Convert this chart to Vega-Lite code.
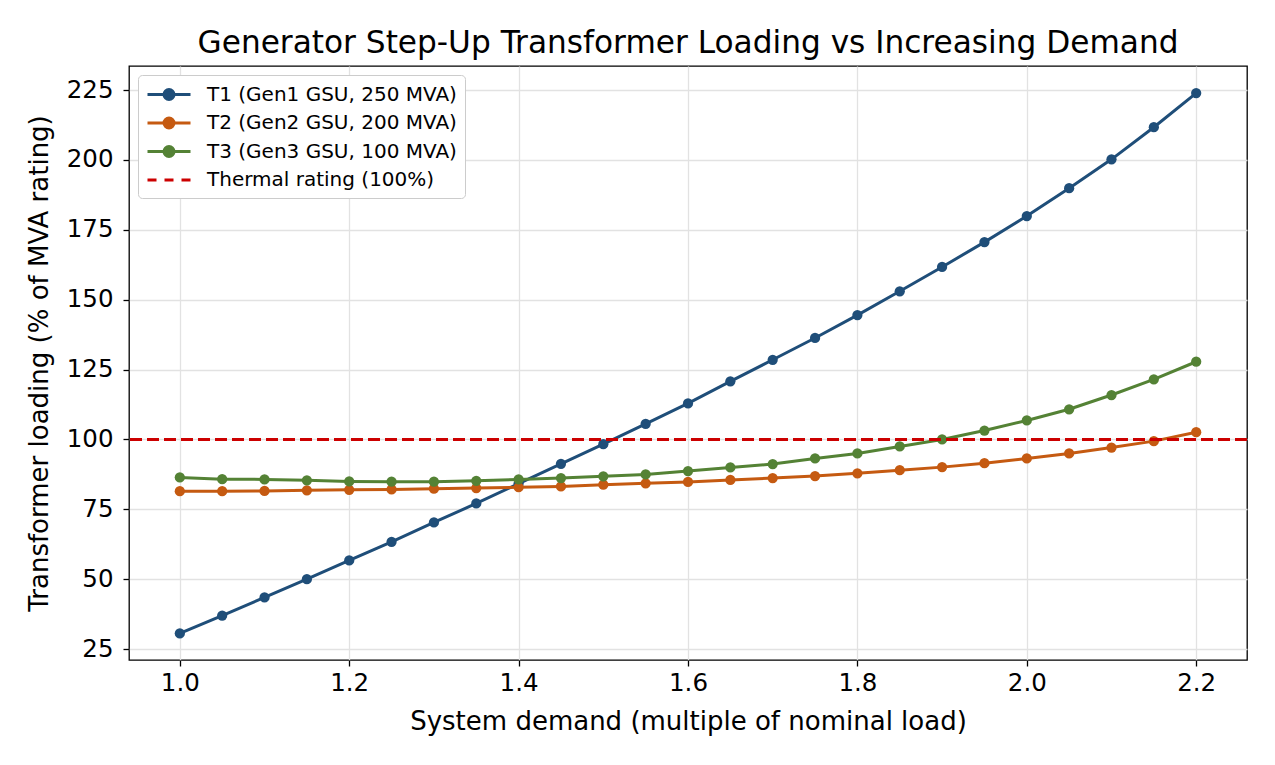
{
  "$schema": "https://vega.github.io/schema/vega-lite/v6.json",
  "width": 1118,
  "height": 594,
  "autosize": {"type": "none"},
  "padding": {"left": 129, "top": 66, "right": 28, "bottom": 105},
  "background": "white",
  "title": {
    "text": "Generator Step-Up Transformer Loading vs Increasing Demand",
    "fontSize": 31.2,
    "font": "DejaVu Sans",
    "fontWeight": "normal",
    "color": "black",
    "anchor": "middle",
    "offset": 7
  },
  "config": {
    "font": "DejaVu Sans",
    "view": {"stroke": "black", "strokeWidth": 1.3},
    "axis": {
      "domain": false,
      "grid": true,
      "gridColor": "#e2e2e2",
      "gridWidth": 1.3,
      "tickColor": "black",
      "tickSize": 6,
      "tickWidth": 1.3,
      "labelFont": "DejaVu Sans",
      "labelFontSize": 24.5,
      "labelColor": "black",
      "titleFont": "DejaVu Sans",
      "titleFontSize": 26,
      "titleFontWeight": "normal",
      "titleColor": "black"
    }
  },
  "datasets": {
    "loading": [
      {"x": 1.0, "y": 30.6, "series": "T1 (Gen1 GSU, 250 MVA)"},
      {"x": 1.05, "y": 37.0, "series": "T1 (Gen1 GSU, 250 MVA)"},
      {"x": 1.1, "y": 43.5, "series": "T1 (Gen1 GSU, 250 MVA)"},
      {"x": 1.15, "y": 50.0, "series": "T1 (Gen1 GSU, 250 MVA)"},
      {"x": 1.2, "y": 56.7, "series": "T1 (Gen1 GSU, 250 MVA)"},
      {"x": 1.25, "y": 63.4, "series": "T1 (Gen1 GSU, 250 MVA)"},
      {"x": 1.3, "y": 70.3, "series": "T1 (Gen1 GSU, 250 MVA)"},
      {"x": 1.35, "y": 77.1, "series": "T1 (Gen1 GSU, 250 MVA)"},
      {"x": 1.4, "y": 84.2, "series": "T1 (Gen1 GSU, 250 MVA)"},
      {"x": 1.45, "y": 91.3, "series": "T1 (Gen1 GSU, 250 MVA)"},
      {"x": 1.5, "y": 98.3, "series": "T1 (Gen1 GSU, 250 MVA)"},
      {"x": 1.55, "y": 105.6, "series": "T1 (Gen1 GSU, 250 MVA)"},
      {"x": 1.6, "y": 112.9, "series": "T1 (Gen1 GSU, 250 MVA)"},
      {"x": 1.65, "y": 120.8, "series": "T1 (Gen1 GSU, 250 MVA)"},
      {"x": 1.7, "y": 128.5, "series": "T1 (Gen1 GSU, 250 MVA)"},
      {"x": 1.75, "y": 136.3, "series": "T1 (Gen1 GSU, 250 MVA)"},
      {"x": 1.8, "y": 144.5, "series": "T1 (Gen1 GSU, 250 MVA)"},
      {"x": 1.85, "y": 153.0, "series": "T1 (Gen1 GSU, 250 MVA)"},
      {"x": 1.9, "y": 161.7, "series": "T1 (Gen1 GSU, 250 MVA)"},
      {"x": 1.95, "y": 170.6, "series": "T1 (Gen1 GSU, 250 MVA)"},
      {"x": 2.0, "y": 179.9, "series": "T1 (Gen1 GSU, 250 MVA)"},
      {"x": 2.05, "y": 189.9, "series": "T1 (Gen1 GSU, 250 MVA)"},
      {"x": 2.1, "y": 200.2, "series": "T1 (Gen1 GSU, 250 MVA)"},
      {"x": 2.15, "y": 211.7, "series": "T1 (Gen1 GSU, 250 MVA)"},
      {"x": 2.2, "y": 223.9, "series": "T1 (Gen1 GSU, 250 MVA)"},
      {"x": 1.0, "y": 81.5, "series": "T2 (Gen2 GSU, 200 MVA)"},
      {"x": 1.05, "y": 81.5, "series": "T2 (Gen2 GSU, 200 MVA)"},
      {"x": 1.1, "y": 81.6, "series": "T2 (Gen2 GSU, 200 MVA)"},
      {"x": 1.15, "y": 81.8, "series": "T2 (Gen2 GSU, 200 MVA)"},
      {"x": 1.2, "y": 82.0, "series": "T2 (Gen2 GSU, 200 MVA)"},
      {"x": 1.25, "y": 82.1, "series": "T2 (Gen2 GSU, 200 MVA)"},
      {"x": 1.3, "y": 82.4, "series": "T2 (Gen2 GSU, 200 MVA)"},
      {"x": 1.35, "y": 82.6, "series": "T2 (Gen2 GSU, 200 MVA)"},
      {"x": 1.4, "y": 82.9, "series": "T2 (Gen2 GSU, 200 MVA)"},
      {"x": 1.45, "y": 83.2, "series": "T2 (Gen2 GSU, 200 MVA)"},
      {"x": 1.5, "y": 83.8, "series": "T2 (Gen2 GSU, 200 MVA)"},
      {"x": 1.55, "y": 84.3, "series": "T2 (Gen2 GSU, 200 MVA)"},
      {"x": 1.6, "y": 84.8, "series": "T2 (Gen2 GSU, 200 MVA)"},
      {"x": 1.65, "y": 85.5, "series": "T2 (Gen2 GSU, 200 MVA)"},
      {"x": 1.7, "y": 86.2, "series": "T2 (Gen2 GSU, 200 MVA)"},
      {"x": 1.75, "y": 86.9, "series": "T2 (Gen2 GSU, 200 MVA)"},
      {"x": 1.8, "y": 87.9, "series": "T2 (Gen2 GSU, 200 MVA)"},
      {"x": 1.85, "y": 89.0, "series": "T2 (Gen2 GSU, 200 MVA)"},
      {"x": 1.9, "y": 90.1, "series": "T2 (Gen2 GSU, 200 MVA)"},
      {"x": 1.95, "y": 91.5, "series": "T2 (Gen2 GSU, 200 MVA)"},
      {"x": 2.0, "y": 93.2, "series": "T2 (Gen2 GSU, 200 MVA)"},
      {"x": 2.05, "y": 95.0, "series": "T2 (Gen2 GSU, 200 MVA)"},
      {"x": 2.1, "y": 97.1, "series": "T2 (Gen2 GSU, 200 MVA)"},
      {"x": 2.15, "y": 99.4, "series": "T2 (Gen2 GSU, 200 MVA)"},
      {"x": 2.2, "y": 102.6, "series": "T2 (Gen2 GSU, 200 MVA)"},
      {"x": 1.0, "y": 86.4, "series": "T3 (Gen3 GSU, 100 MVA)"},
      {"x": 1.05, "y": 85.8, "series": "T3 (Gen3 GSU, 100 MVA)"},
      {"x": 1.1, "y": 85.7, "series": "T3 (Gen3 GSU, 100 MVA)"},
      {"x": 1.15, "y": 85.4, "series": "T3 (Gen3 GSU, 100 MVA)"},
      {"x": 1.2, "y": 85.0, "series": "T3 (Gen3 GSU, 100 MVA)"},
      {"x": 1.25, "y": 84.9, "series": "T3 (Gen3 GSU, 100 MVA)"},
      {"x": 1.3, "y": 84.9, "series": "T3 (Gen3 GSU, 100 MVA)"},
      {"x": 1.35, "y": 85.2, "series": "T3 (Gen3 GSU, 100 MVA)"},
      {"x": 1.4, "y": 85.7, "series": "T3 (Gen3 GSU, 100 MVA)"},
      {"x": 1.45, "y": 86.2, "series": "T3 (Gen3 GSU, 100 MVA)"},
      {"x": 1.5, "y": 86.8, "series": "T3 (Gen3 GSU, 100 MVA)"},
      {"x": 1.55, "y": 87.5, "series": "T3 (Gen3 GSU, 100 MVA)"},
      {"x": 1.6, "y": 88.7, "series": "T3 (Gen3 GSU, 100 MVA)"},
      {"x": 1.65, "y": 90.0, "series": "T3 (Gen3 GSU, 100 MVA)"},
      {"x": 1.7, "y": 91.2, "series": "T3 (Gen3 GSU, 100 MVA)"},
      {"x": 1.75, "y": 93.2, "series": "T3 (Gen3 GSU, 100 MVA)"},
      {"x": 1.8, "y": 95.0, "series": "T3 (Gen3 GSU, 100 MVA)"},
      {"x": 1.85, "y": 97.5, "series": "T3 (Gen3 GSU, 100 MVA)"},
      {"x": 1.9, "y": 100.0, "series": "T3 (Gen3 GSU, 100 MVA)"},
      {"x": 1.95, "y": 103.2, "series": "T3 (Gen3 GSU, 100 MVA)"},
      {"x": 2.0, "y": 106.8, "series": "T3 (Gen3 GSU, 100 MVA)"},
      {"x": 2.05, "y": 110.8, "series": "T3 (Gen3 GSU, 100 MVA)"},
      {"x": 2.1, "y": 115.9, "series": "T3 (Gen3 GSU, 100 MVA)"},
      {"x": 2.15, "y": 121.5, "series": "T3 (Gen3 GSU, 100 MVA)"},
      {"x": 2.2, "y": 127.8, "series": "T3 (Gen3 GSU, 100 MVA)"}
    ],
    "threshold": [
      {"y": 100, "series": "Thermal rating (100%)"}
    ]
  },
  "layer": [
    {
      "data": {"name": "loading"},
      "mark": {
        "type": "line",
        "strokeWidth": 3,
        "point": {"filled": true, "size": 105, "opacity": 1}
      },
      "encoding": {
        "x": {
          "field": "x",
          "type": "quantitative",
          "scale": {"domain": [0.94, 2.26], "nice": false, "zero": false},
          "axis": {
            "values": [1.0, 1.2, 1.4, 1.6, 1.8, 2.0, 2.2],
            "format": ".1f",
            "labelPadding": 5,
            "title": "System demand (multiple of nominal load)",
            "titlePadding": 14
          }
        },
        "y": {
          "field": "y",
          "type": "quantitative",
          "scale": {"domain": [21.1, 233.6], "nice": false, "zero": false},
          "axis": {
            "values": [25, 50, 75, 100, 125, 150, 175, 200, 225],
            "labelPadding": 10,
            "title": "Transformer loading (% of MVA rating)",
            "titlePadding": 14
          }
        },
        "color": {
          "field": "series",
          "type": "nominal",
          "sort": null,
          "scale": {
            "domain": ["T1 (Gen1 GSU, 250 MVA)", "T2 (Gen2 GSU, 200 MVA)", "T3 (Gen3 GSU, 100 MVA)", "Thermal rating (100%)"],
            "range": ["#1f4e79", "#c55a11", "#548235", "#cc0000"]
          },
          "legend": {
            "title": null,
            "orient": "top-left",
            "offset": 9,
            "padding": 8,
            "fillColor": "white",
            "strokeColor": "#cccccc",
            "cornerRadius": 4,
            "labelFont": "DejaVu Sans",
            "labelFontSize": 20,
            "labelColor": "black",
            "labelLimit": 0,
            "labelOffset": 38,
            "rowPadding": 5.5,
            "symbolSize": 400,
            "symbolStrokeWidth": 3,
            "symbolOpacity": 1,
            "encode": {
              "symbols": {
                "update": {
                  "shape": {"signal": "datum.value === 'Thermal rating (100%)' ? 'M-1,0H-0.1M0.7,0H1.6M2.4,0H3.3' : 'M-1,0H3.3M0.65,0A0.5,0.5,0,1,0,1.65,0A0.5,0.5,0,1,0,0.65,0Z'"},
                  "fill": {"signal": "datum.value === 'Thermal rating (100%)' ? 'transparent' : scale('color', datum.value)"},
                  "stroke": {"signal": "scale('color', datum.value)"},
                  "strokeWidth": {"value": 3},
                  "strokeDash": {"value": []},
                  "opacity": {"value": 1}
                }
              }
            }
          }
        }
      }
    },
    {
      "data": {"name": "threshold"},
      "mark": {"type": "rule", "strokeWidth": 3, "strokeDash": [12, 5]},
      "encoding": {
        "y": {"field": "y", "type": "quantitative"},
        "color": {"field": "series", "type": "nominal"}
      }
    }
  ]
}
